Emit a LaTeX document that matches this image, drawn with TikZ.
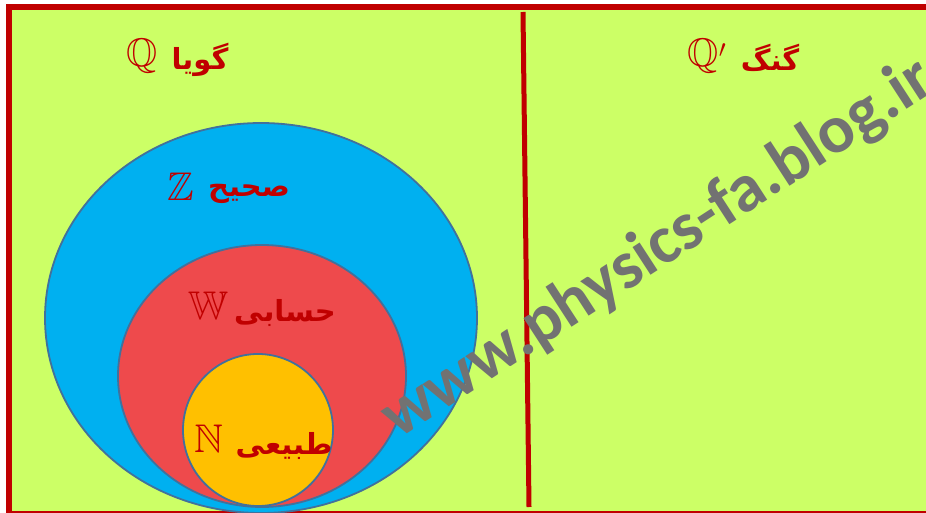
\documentclass[tikz,border=0pt]{standalone}
\usepackage{fontspec}
\usepackage{amssymb}
\usetikzlibrary{shapes.geometric}
\TeXXeTstate=1
\newfontfamily\fafont[Script=Arabic]{DejaVu Sans}
\newfontfamily\wmfont{Carlito}
\definecolor{bg}{HTML}{CCFF66}
\definecolor{dred}{HTML}{C00000}
\definecolor{skyb}{HTML}{00B0F0}
\definecolor{redfill}{HTML}{EE4A4C}
\definecolor{gold}{HTML}{FFC000}
\definecolor{edge}{HTML}{41719C}
\definecolor{wmgray}{HTML}{727272}
\tikzset{
  setbox/.style={ellipse, draw=edge, line width=1.8pt, inner sep=0pt},
  faword/.style={text=dred, inner sep=0pt, font=\fontsize{29}{32}\selectfont\fafont\bfseries},
  mathsym/.style={text=dred, inner sep=0pt, font=\fontsize{40}{44}\selectfont},
  wmark/.style={text=wmgray, inner sep=0pt, font=\fontsize{68}{72}\selectfont\wmfont\bfseries}
}
\begin{document}
\begin{tikzpicture}[x=1pt,y=-1pt]
\useasboundingbox (0,0) rectangle (926,513);
\begin{scope}
\clip (0,0) rectangle (926,513);
\draw[fill=bg, draw=dred, line width=6pt] (9,7) rectangle (931,514);
% separator
\coordinate (st) at (523,12);
\coordinate (sb) at (529,507);
\draw[dred, line width=5pt] (st) -- (sb);
% sets
\node[setbox, fill=skyb, minimum width=432pt, minimum height=390pt] (Zs) at (261,318) {};
\node[setbox, fill=redfill, minimum width=288pt, minimum height=262pt] (Ws) at (262,376) {};
\node[setbox, fill=gold, minimum width=150pt, minimum height=152pt] (Ns) at (258,430) {};
% labels
\node[mathsym] (qsym) at (142,56) {$\mathbb{Q}$};
\node[faword] (qword) at (200,60) {\beginR گویا\endR};
\node[mathsym] (qpsym) at (707,56) {$\mathbb{Q}'$};
\node[faword] (qpword) at (770,58) {\beginR گنگ\endR};
\node[mathsym] (zsym) at (181,187) {$\mathbb{Z}$};
\node[faword] (zword) at (249,194) {\beginR صحیح\endR};
\node[mathsym] (wsym) at (208,306) {$\mathbb{W}$};
\node[faword] (wword) at (285,313) {\beginR حسابی\endR};
\node[mathsym] (nsym) at (209,439) {$\mathbb{N}$};
\node[faword] (nword) at (284,446) {\beginR طبیعی\endR};
% watermark
\node[wmark, anchor=base west, rotate=33] (wm) at (398,440) {www.physics-fa.blog.ir};
\end{scope}
\end{tikzpicture}
\end{document}
